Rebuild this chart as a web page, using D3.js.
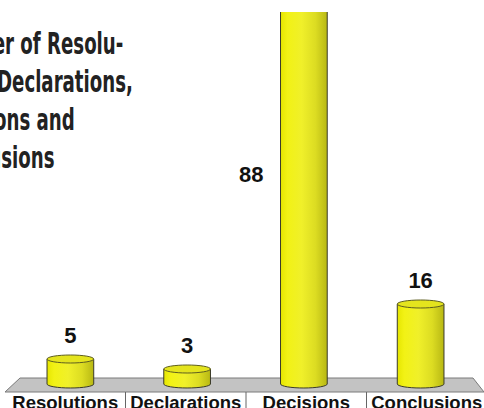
<!DOCTYPE html>
<html>
<head>
<meta charset="utf-8">
<script src="https://cdn.jsdelivr.net/npm/d3@7"></script>
<style>
  body { margin: 0; background: #fff; }
  svg { display: block; }
</style>
</head>
<body>
<svg id="chart"></svg>
<script>
const categories = ["Resolutions", "Declarations", "Decisions", "Conclusions"];
const values = [5, 3, 88, 16];
const titleLines = ["Number of Resolu-", "tions, Declarations,", "Decisions and", "Conclusions"];

const W = 484, H = 408;
const svg = d3.select("#chart").attr("width", W).attr("height", H);

// floor geometry (back edge / front edge of the grey platform)
const floorBack = 378, floorFront = 392, base = 384, ry = 4;

const xFront = d3.scaleBand().domain(categories).range([5, 487]);
const xBar = d3.scaleBand().domain(categories).range([12, 479])
  .paddingInner(0.6).paddingOuter(0.3);
const y = d3.scaleLinear().domain([0, 16]).range([base, base - 80]);
const plotTop = 12;

const defs = svg.append("defs");
const grad = defs.append("linearGradient").attr("id", "cyl")
  .attr("x1", "0%").attr("x2", "100%").attr("y1", "0%").attr("y2", "0%");
[["0%", "#e6e600"], ["15%", "#f2f215"], ["45%", "#f0f02a"], ["75%", "#dcdc22"], ["100%", "#b8b814"]]
  .forEach(([o, c]) => grad.append("stop").attr("offset", o).attr("stop-color", c));

defs.append("clipPath").attr("id", "plot")
  .append("rect").attr("x", 0).attr("y", plotTop).attr("width", W).attr("height", H - plotTop);

// title (left-aligned, runs off the left edge) - squeezed to look condensed
const title = svg.append("g")
  .attr("font-family", "'DejaVu Sans', sans-serif")
  .attr("font-stretch", "condensed")
  .attr("font-weight", "bold")
  .attr("font-size", 30)
  .attr("fill", "#222");
const tl = title.selectAll("text").data(titleLines).join("text")
  .attr("y", (d, i) => 54 + i * 38)
  .text(d => d);
const probe = title.append("text").text("Declarations,");
const sx = 136 / probe.node().getComputedTextLength();
probe.remove();
const w2 = tl.nodes()[1].getComputedTextLength();
title.attr("transform", `scale(${sx},1)`);
tl.attr("x", 133 / sx - w2);

// floor
svg.append("polygon")
  .attr("points", [[20, floorBack], [473, floorBack], [484, floorFront], [5, floorFront]].join(" "))
  .attr("fill", "#c3c3c3")
  .attr("stroke", "#7a7a7a")
  .attr("stroke-width", 1);

// cylinders
const bars = svg.append("g").attr("clip-path", "url(#plot)");
const bw = xBar.bandwidth(), rx = bw / 2;
categories.forEach((c, i) => {
  const x0 = xBar(c), top = y(values[i]);
  const g = bars.append("g");
  g.append("path")
    .attr("d", `M${x0},${top} L${x0},${base} A${rx},${ry} 0 0 0 ${x0 + bw},${base} L${x0 + bw},${top} Z`)
    .attr("fill", "url(#cyl)")
    .attr("stroke", "#3a3a2a")
    .attr("stroke-width", 1);
  g.append("ellipse")
    .attr("cx", x0 + rx).attr("cy", top).attr("rx", rx).attr("ry", ry)
    .attr("fill", "#e4e41e")
    .attr("stroke", "#5e5e20")
    .attr("stroke-width", 1);
});

// value labels
svg.append("g")
  .attr("font-family", "'Liberation Sans', Arial, sans-serif")
  .attr("font-weight", "bold")
  .attr("font-size", 22)
  .attr("fill", "#111")
  .selectAll("text").data(categories).join("text")
  .each(function (c, i) {
    const t = d3.select(this);
    const top = y(values[i]);
    if (top < plotTop) {
      // bar runs off the top: put the label beside it
      t.attr("x", xBar(c) - 17).attr("y", (plotTop + base) / 2 - 16).attr("text-anchor", "end");
    } else {
      t.attr("x", xBar(c) + rx).attr("y", top - 16).attr("text-anchor", "middle");
    }
  })
  .text((c, i) => values[i]);

// category axis
const axis = svg.append("g")
  .attr("transform", `translate(0,${floorFront})`)
  .call(d3.axisBottom(xFront).tickSize(0).tickPadding(4));
axis.select(".domain").remove();
axis.selectAll("text")
  .attr("font-family", "'Liberation Sans', Arial, sans-serif")
  .attr("font-weight", "bold")
  .attr("font-size", 18.5)
  .attr("fill", "#111");

svg.append("g").selectAll("line").data(categories.slice(1)).join("line")
  .attr("x1", d => xFront(d)).attr("x2", d => xFront(d))
  .attr("y1", floorFront).attr("y2", H)
  .attr("stroke", "#666").attr("stroke-width", 1);
</script>
</body>
</html>
